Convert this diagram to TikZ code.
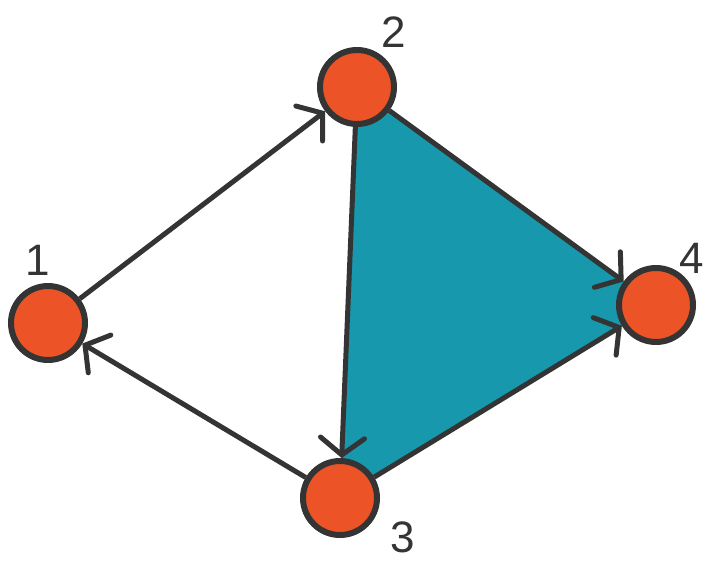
\documentclass[tikz,border=0pt]{standalone}
\usepackage{fontspec}
\setmainfont{Liberation Sans}
\usetikzlibrary{arrows.meta}
\definecolor{nodefill}{RGB}{236,84,40}
\definecolor{tealfill}{RGB}{24,152,172}
\definecolor{ink}{RGB}{52,52,52}
\begin{document}
\begin{tikzpicture}[x=1pt,y=-1pt,
  vertex/.style={circle,draw=ink,fill=nodefill,line width=6pt,minimum size=74pt,inner sep=0pt},
  edge/.style={draw=ink,line width=5pt,-{Straight Barb[length=17pt,width=44pt,line cap=round]}},
  lbl/.style={text=ink,font=\fontsize{44}{44}\selectfont}]
\useasboundingbox (0,0) rectangle (706,565);
\coordinate (c1) at (48,323);
\coordinate (c2) at (357,87);
\coordinate (c3) at (340,498);
\coordinate (c4) at (656,305);
\fill[tealfill] (c2) -- (c3) -- (c4) -- cycle;
\node[vertex] (n1) at (c1) {};
\node[vertex] (n2) at (c2) {};
\node[vertex] (n3) at (c3) {};
\node[vertex] (n4) at (c4) {};
\draw[edge] (n1) -- (n2);
\draw[edge] (n3) -- (n1);
\draw[edge] (n2) -- (n3);
\draw[edge] (n2) -- (n4);
\draw[edge] (n3) -- (n4);
\node[lbl] (l1) at (38,260) {1};
\node[lbl] (l2) at (394,32) {2};
\node[lbl] (l3) at (403,537) {3};
\node[lbl] (l4) at (692,258) {4};
\end{tikzpicture}
\end{document}
